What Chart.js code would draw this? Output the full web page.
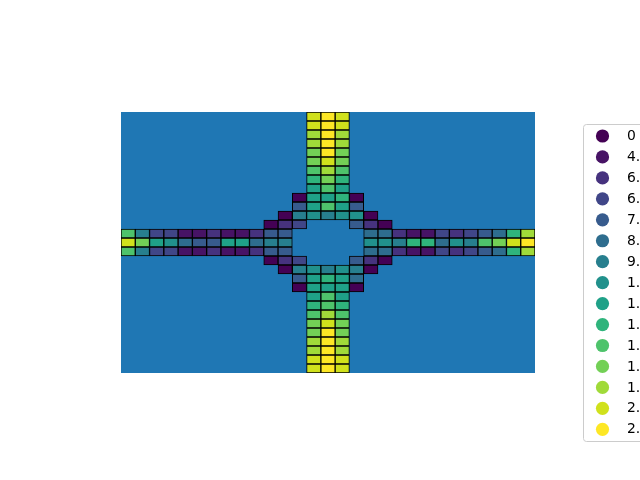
<!DOCTYPE html>
<html><head><meta charset="utf-8">
<script src="https://cdn.jsdelivr.net/npm/chart.js@4.4.0/dist/chart.umd.min.js"></script>
<style>html,body{margin:0;padding:0;background:#fff;overflow:hidden}</style>
</head><body>
<canvas id="c" width="640" height="480"></canvas>
<script>
// ---- data ----
const columns = Array.from({length: 29}, (_, i) => String(i));
const levelLabels = ["0","4.","6.","6.","7.","8.","9.","1.","1.","1.","1.","1.","1.","2.","2."];
const levelColors = ["#440154","#471365","#46327e","#404688","#375b8d","#2e6d8e","#277f8e","#21918c",
                     "#1fa188","#2fb47c","#4ec36b","#73d056","#a0da39","#d0e11c","#fde725"];
const _ = null;
// level index per cell, rows top to bottom, columns left to right (null = no cell)
const grid = [
 [_,_,_,_,_,_,_,_,_,_,_,_,_,13,14,13,_,_,_,_,_,_,_,_,_,_,_,_,_],
 [_,_,_,_,_,_,_,_,_,_,_,_,_,13,14,13,_,_,_,_,_,_,_,_,_,_,_,_,_],
 [_,_,_,_,_,_,_,_,_,_,_,_,_,12,14,12,_,_,_,_,_,_,_,_,_,_,_,_,_],
 [_,_,_,_,_,_,_,_,_,_,_,_,_,12,14,12,_,_,_,_,_,_,_,_,_,_,_,_,_],
 [_,_,_,_,_,_,_,_,_,_,_,_,_,11,14,11,_,_,_,_,_,_,_,_,_,_,_,_,_],
 [_,_,_,_,_,_,_,_,_,_,_,_,_,11,13,11,_,_,_,_,_,_,_,_,_,_,_,_,_],
 [_,_,_,_,_,_,_,_,_,_,_,_,_,10,12,10,_,_,_,_,_,_,_,_,_,_,_,_,_],
 [_,_,_,_,_,_,_,_,_,_,_,_,_,9,11,9,_,_,_,_,_,_,_,_,_,_,_,_,_],
 [_,_,_,_,_,_,_,_,_,_,_,_,_,8,10,8,_,_,_,_,_,_,_,_,_,_,_,_,_],
 [_,_,_,_,_,_,_,_,_,_,_,_,0,8,8,9,0,_,_,_,_,_,_,_,_,_,_,_,_],
 [_,_,_,_,_,_,_,_,_,_,_,_,4,8,10,8,4,_,_,_,_,_,_,_,_,_,_,_,_],
 [_,_,_,_,_,_,_,_,_,_,_,0,6,7,6,7,7,0,_,_,_,_,_,_,_,_,_,_,_],
 [_,_,_,_,_,_,_,_,_,_,0,2,3,_,_,_,4,2,0,_,_,_,_,_,_,_,_,_,_],
 [10,6,3,3,1,1,2,1,1,2,4,4,_,_,_,_,_,5,5,2,1,1,3,2,3,4,5,9,12],
 [13,11,8,7,5,4,4,8,8,5,6,6,_,_,_,_,_,7,7,6,9,9,5,7,6,10,11,13,14],
 [10,6,3,3,1,1,2,1,1,2,4,4,_,_,_,_,_,5,5,2,1,1,3,2,3,4,5,9,12],
 [_,_,_,_,_,_,_,_,_,_,0,2,3,_,_,_,4,2,0,_,_,_,_,_,_,_,_,_,_],
 [_,_,_,_,_,_,_,_,_,_,_,0,6,7,6,7,6,0,_,_,_,_,_,_,_,_,_,_,_],
 [_,_,_,_,_,_,_,_,_,_,_,_,4,8,9,8,5,_,_,_,_,_,_,_,_,_,_,_,_],
 [_,_,_,_,_,_,_,_,_,_,_,_,0,8,8,8,0,_,_,_,_,_,_,_,_,_,_,_,_],
 [_,_,_,_,_,_,_,_,_,_,_,_,_,8,10,8,_,_,_,_,_,_,_,_,_,_,_,_,_],
 [_,_,_,_,_,_,_,_,_,_,_,_,_,9,10,9,_,_,_,_,_,_,_,_,_,_,_,_,_],
 [_,_,_,_,_,_,_,_,_,_,_,_,_,10,12,10,_,_,_,_,_,_,_,_,_,_,_,_,_],
 [_,_,_,_,_,_,_,_,_,_,_,_,_,11,13,11,_,_,_,_,_,_,_,_,_,_,_,_,_],
 [_,_,_,_,_,_,_,_,_,_,_,_,_,11,14,11,_,_,_,_,_,_,_,_,_,_,_,_,_],
 [_,_,_,_,_,_,_,_,_,_,_,_,_,12,14,12,_,_,_,_,_,_,_,_,_,_,_,_,_],
 [_,_,_,_,_,_,_,_,_,_,_,_,_,12,14,12,_,_,_,_,_,_,_,_,_,_,_,_,_],
 [_,_,_,_,_,_,_,_,_,_,_,_,_,13,14,13,_,_,_,_,_,_,_,_,_,_,_,_,_],
 [_,_,_,_,_,_,_,_,_,_,_,_,_,13,14,13,_,_,_,_,_,_,_,_,_,_,_,_,_]
];

// ---- build datasets (one per level) ----
const datasets = levelLabels.map((lab, k) => {
  const data = [];
  grid.forEach((row, r) => row.forEach((v, c) => {
    if (v === k) data.push({x: columns[c], y: [r, r + 1]});
  }));
  return {
    label: lab, data,
    backgroundColor: levelColors[k], borderColor: '#000000', borderWidth: 1,
    borderSkipped: false, grouped: false, categoryPercentage: 1, barPercentage: 1
  };
});

const bgPlugin = {
  id: 'axesBg',
  beforeDatasetsDraw(chart) {
    const {ctx, chartArea: a} = chart;
    ctx.save();
    ctx.fillStyle = '#1f77b4';
    ctx.fillRect(a.left, a.top, a.right - a.left, a.bottom - a.top);
    ctx.restore();
  }
};

const legendPlugin = {
  id: 'sideLegend',
  afterDraw(chart) {
    const ctx = chart.ctx;
    const ds = chart.data.datasets;
    ctx.save();
    const x0 = 583.5, y0 = 124.5, w = 120, h = 317, rad = 3;
    ctx.beginPath();
    ctx.moveTo(x0 + rad, y0);
    ctx.lineTo(x0 + w - rad, y0); ctx.arcTo(x0 + w, y0, x0 + w, y0 + rad, rad);
    ctx.lineTo(x0 + w, y0 + h - rad); ctx.arcTo(x0 + w, y0 + h, x0 + w - rad, y0 + h, rad);
    ctx.lineTo(x0 + rad, y0 + h); ctx.arcTo(x0, y0 + h, x0, y0 + h - rad, rad);
    ctx.lineTo(x0, y0 + rad); ctx.arcTo(x0, y0, x0 + rad, y0, rad);
    ctx.closePath();
    ctx.fillStyle = 'rgba(255,255,255,0.8)'; ctx.fill();
    ctx.strokeStyle = '#cccccc'; ctx.lineWidth = 1; ctx.stroke();
    ctx.font = '13.9px "DejaVu Sans"';
    ctx.textBaseline = 'middle';
    ds.forEach((d, k) => {
      const cy = 136 + k * 20.95;
      ctx.beginPath();
      ctx.arc(602.5, cy, 6.6, 0, Math.PI * 2);
      ctx.fillStyle = d.backgroundColor; ctx.fill();
      ctx.fillStyle = '#000000';
      ctx.fillText(d.label, 627, cy + 0.5);
    });
    ctx.restore();
  }
};

new Chart(document.getElementById('c'), {
  type: 'bar',
  data: {labels: columns, datasets},
  options: {
    responsive: false, animation: false, devicePixelRatio: 1,
    layout: {padding: {left: 121, right: 105, top: 112, bottom: 107}},
    plugins: {legend: {display: false}, tooltip: {enabled: false}},
    scales: {
      x: {type: 'category', display: false, offset: true},
      y: {type: 'linear', display: false, min: 0, max: 29, reverse: true}
    }
  },
  plugins: [bgPlugin, legendPlugin]
});
</script>
</body></html>
